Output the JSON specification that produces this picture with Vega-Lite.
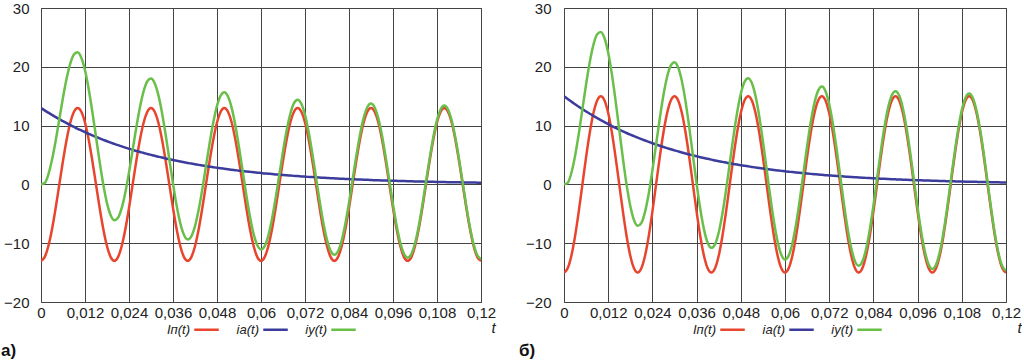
{
  "$schema": "https://vega.github.io/schema/vega-lite/v6.json",
  "padding": {"left": 0, "top": 0, "right": 0, "bottom": 0},
  "spacing": 21,
  "background": "white",
  "config": {
    "font": "Liberation Sans",
    "view": {"stroke": "#444", "strokeWidth": 1},
    "axis": {"grid": true, "gridColor": "#444", "gridOpacity": 1, "gridWidth": 1, "ticks": false, "domain": false, "labelFontSize": 15, "labelColor": "#222", "labelFont": "Liberation Sans"},
    "title": {"font": "Liberation Sans"}
  },
  "resolve": {"scale": {"color": "independent", "x": "independent", "y": "independent"}, "legend": {"color": "independent"}},
  "datasets": {
    "a": [
      {"t":0,"ip":-13,"ia":13,"iy":0},{"t":0.001,"ip":-12.36,"ia":12.59,"iy":0.23},{"t":0.002,"ip":-10.52,"ia":12.2,"iy":1.68},{"t":0.003,"ip":-7.64,"ia":11.82,"iy":4.18},{"t":0.004,"ip":-4.02,"ia":11.45,"iy":7.43},{"t":0.005,"ip":0,"ia":11.09,"iy":11.09},{"t":0.006,"ip":4.02,"ia":10.75,"iy":14.77},{"t":0.007,"ip":7.64,"ia":10.41,"iy":18.05},{"t":0.008,"ip":10.52,"ia":10.08,"iy":20.6},{"t":0.009,"ip":12.36,"ia":9.77,"iy":22.13},
      {"t":0.01,"ip":13,"ia":9.46,"iy":22.46},{"t":0.011,"ip":12.36,"ia":9.17,"iy":21.53},{"t":0.012,"ip":10.52,"ia":8.88,"iy":19.4},{"t":0.013,"ip":7.64,"ia":8.6,"iy":16.24},{"t":0.014,"ip":4.02,"ia":8.34,"iy":12.36},{"t":0.015,"ip":0,"ia":8.07,"iy":8.07},{"t":0.016,"ip":-4.02,"ia":7.82,"iy":3.8},{"t":0.017,"ip":-7.64,"ia":7.58,"iy":-0.06},{"t":0.018,"ip":-10.52,"ia":7.34,"iy":-3.18},{"t":0.019,"ip":-12.36,"ia":7.11,"iy":-5.25},
      {"t":0.02,"ip":-13,"ia":6.89,"iy":-6.11},{"t":0.021,"ip":-12.36,"ia":6.67,"iy":-5.69},{"t":0.022,"ip":-10.52,"ia":6.47,"iy":-4.05},{"t":0.023,"ip":-7.64,"ia":6.26,"iy":-1.38},{"t":0.024,"ip":-4.02,"ia":6.07,"iy":2.05},{"t":0.025,"ip":0,"ia":5.88,"iy":5.88},{"t":0.026,"ip":4.02,"ia":5.69,"iy":9.71},{"t":0.027,"ip":7.64,"ia":5.52,"iy":13.16},{"t":0.028,"ip":10.52,"ia":5.34,"iy":15.86},{"t":0.029,"ip":12.36,"ia":5.18,"iy":17.54},
      {"t":0.03,"ip":13,"ia":5.02,"iy":18.02},{"t":0.031,"ip":12.36,"ia":4.86,"iy":17.22},{"t":0.032,"ip":10.52,"ia":4.71,"iy":15.23},{"t":0.033,"ip":7.64,"ia":4.56,"iy":12.2},{"t":0.034,"ip":4.02,"ia":4.42,"iy":8.44},{"t":0.035,"ip":0,"ia":4.28,"iy":4.28},{"t":0.036,"ip":-4.02,"ia":4.15,"iy":0.13},{"t":0.037,"ip":-7.64,"ia":4.02,"iy":-3.62},{"t":0.038,"ip":-10.52,"ia":3.89,"iy":-6.63},{"t":0.039,"ip":-12.36,"ia":3.77,"iy":-8.59},
      {"t":0.04,"ip":-13,"ia":3.65,"iy":-9.35},{"t":0.041,"ip":-12.36,"ia":3.54,"iy":-8.82},{"t":0.042,"ip":-10.52,"ia":3.43,"iy":-7.09},{"t":0.043,"ip":-7.64,"ia":3.32,"iy":-4.32},{"t":0.044,"ip":-4.02,"ia":3.22,"iy":-0.8},{"t":0.045,"ip":0,"ia":3.12,"iy":3.12},{"t":0.046,"ip":4.02,"ia":3.02,"iy":7.04},{"t":0.047,"ip":7.64,"ia":2.92,"iy":10.56},{"t":0.048,"ip":10.52,"ia":2.83,"iy":13.35},{"t":0.049,"ip":12.36,"ia":2.74,"iy":15.1},
      {"t":0.05,"ip":13,"ia":2.66,"iy":15.66},{"t":0.051,"ip":12.36,"ia":2.58,"iy":14.94},{"t":0.052,"ip":10.52,"ia":2.49,"iy":13.01},{"t":0.053,"ip":7.64,"ia":2.42,"iy":10.06},{"t":0.054,"ip":4.02,"ia":2.34,"iy":6.36},{"t":0.055,"ip":0,"ia":2.27,"iy":2.27},{"t":0.056,"ip":-4.02,"ia":2.2,"iy":-1.82},{"t":0.057,"ip":-7.64,"ia":2.13,"iy":-5.51},{"t":0.058,"ip":-10.52,"ia":2.06,"iy":-8.46},{"t":0.059,"ip":-12.36,"ia":2,"iy":-10.36},
      {"t":0.06,"ip":-13,"ia":1.94,"iy":-11.06},{"t":0.061,"ip":-12.36,"ia":1.87,"iy":-10.49},{"t":0.062,"ip":-10.52,"ia":1.82,"iy":-8.7},{"t":0.063,"ip":-7.64,"ia":1.76,"iy":-5.88},{"t":0.064,"ip":-4.02,"ia":1.7,"iy":-2.32},{"t":0.065,"ip":0,"ia":1.65,"iy":1.65},{"t":0.066,"ip":4.02,"ia":1.6,"iy":5.62},{"t":0.067,"ip":7.64,"ia":1.55,"iy":9.19},{"t":0.068,"ip":10.52,"ia":1.5,"iy":12.02},{"t":0.069,"ip":12.36,"ia":1.45,"iy":13.81},
      {"t":0.07,"ip":13,"ia":1.41,"iy":14.41},{"t":0.071,"ip":12.36,"ia":1.36,"iy":13.72},{"t":0.072,"ip":10.52,"ia":1.32,"iy":11.84},{"t":0.073,"ip":7.64,"ia":1.28,"iy":8.92},{"t":0.074,"ip":4.02,"ia":1.24,"iy":5.26},{"t":0.075,"ip":0,"ia":1.2,"iy":1.2},{"t":0.076,"ip":-4.02,"ia":1.16,"iy":-2.86},{"t":0.077,"ip":-7.64,"ia":1.13,"iy":-6.51},{"t":0.078,"ip":-10.52,"ia":1.09,"iy":-9.43},{"t":0.079,"ip":-12.36,"ia":1.06,"iy":-11.3},
      {"t":0.08,"ip":-13,"ia":1.03,"iy":-11.97},{"t":0.081,"ip":-12.36,"ia":0.99,"iy":-11.37},{"t":0.082,"ip":-10.52,"ia":0.96,"iy":-9.56},{"t":0.083,"ip":-7.64,"ia":0.93,"iy":-6.71},{"t":0.084,"ip":-4.02,"ia":0.9,"iy":-3.12},{"t":0.085,"ip":0,"ia":0.88,"iy":0.88},{"t":0.086,"ip":4.02,"ia":0.85,"iy":4.87},{"t":0.087,"ip":7.64,"ia":0.82,"iy":8.46},{"t":0.088,"ip":10.52,"ia":0.8,"iy":11.32},{"t":0.089,"ip":12.36,"ia":0.77,"iy":13.13},
      {"t":0.09,"ip":13,"ia":0.75,"iy":13.75},{"t":0.091,"ip":12.36,"ia":0.72,"iy":13.08},{"t":0.092,"ip":10.52,"ia":0.7,"iy":11.22},{"t":0.093,"ip":7.64,"ia":0.68,"iy":8.32},{"t":0.094,"ip":4.02,"ia":0.66,"iy":4.68},{"t":0.095,"ip":0,"ia":0.64,"iy":0.64},{"t":0.096,"ip":-4.02,"ia":0.62,"iy":-3.4},{"t":0.097,"ip":-7.64,"ia":0.6,"iy":-7.04},{"t":0.098,"ip":-10.52,"ia":0.58,"iy":-9.94},{"t":0.099,"ip":-12.36,"ia":0.56,"iy":-11.8},
      {"t":0.1,"ip":-13,"ia":0.54,"iy":-12.46},{"t":0.101,"ip":-12.36,"ia":0.53,"iy":-11.83},{"t":0.102,"ip":-10.52,"ia":0.51,"iy":-10.01},{"t":0.103,"ip":-7.64,"ia":0.49,"iy":-7.15},{"t":0.104,"ip":-4.02,"ia":0.48,"iy":-3.54},{"t":0.105,"ip":0,"ia":0.46,"iy":0.46},{"t":0.106,"ip":4.02,"ia":0.45,"iy":4.47},{"t":0.107,"ip":7.64,"ia":0.44,"iy":8.08},{"t":0.108,"ip":10.52,"ia":0.42,"iy":10.94},{"t":0.109,"ip":12.36,"ia":0.41,"iy":12.77},
      {"t":0.11,"ip":13,"ia":0.4,"iy":13.4},{"t":0.111,"ip":12.36,"ia":0.38,"iy":12.74},{"t":0.112,"ip":10.52,"ia":0.37,"iy":10.89},{"t":0.113,"ip":7.64,"ia":0.36,"iy":8},{"t":0.114,"ip":4.02,"ia":0.35,"iy":4.37},{"t":0.115,"ip":0,"ia":0.34,"iy":0.34},{"t":0.116,"ip":-4.02,"ia":0.33,"iy":-3.69},{"t":0.117,"ip":-7.64,"ia":0.32,"iy":-7.32},{"t":0.118,"ip":-10.52,"ia":0.31,"iy":-10.21},{"t":0.119,"ip":-12.36,"ia":0.3,"iy":-12.06},
      {"t":0.12,"ip":-13,"ia":0.29,"iy":-12.71}
    ],
    "b": [
      {"t":0,"ip":-15,"ia":15,"iy":0},{"t":0.001,"ip":-14.27,"ia":14.53,"iy":0.26},{"t":0.002,"ip":-12.14,"ia":14.08,"iy":1.94},{"t":0.003,"ip":-8.82,"ia":13.64,"iy":4.82},{"t":0.004,"ip":-4.64,"ia":13.21,"iy":8.57},{"t":0.005,"ip":0,"ia":12.8,"iy":12.8},{"t":0.006,"ip":4.64,"ia":12.4,"iy":17.04},{"t":0.007,"ip":8.82,"ia":12.01,"iy":20.83},{"t":0.008,"ip":12.14,"ia":11.64,"iy":23.78},{"t":0.009,"ip":14.27,"ia":11.27,"iy":25.54},
      {"t":0.01,"ip":15,"ia":10.92,"iy":25.92},{"t":0.011,"ip":14.27,"ia":10.58,"iy":24.85},{"t":0.012,"ip":12.14,"ia":10.25,"iy":22.39},{"t":0.013,"ip":8.82,"ia":9.93,"iy":18.75},{"t":0.014,"ip":4.64,"ia":9.62,"iy":14.26},{"t":0.015,"ip":0,"ia":9.32,"iy":9.32},{"t":0.016,"ip":-4.64,"ia":9.03,"iy":4.39},{"t":0.017,"ip":-8.82,"ia":8.74,"iy":-0.08},{"t":0.018,"ip":-12.14,"ia":8.47,"iy":-3.67},{"t":0.019,"ip":-14.27,"ia":8.21,"iy":-6.06},
      {"t":0.02,"ip":-15,"ia":7.95,"iy":-7.05},{"t":0.021,"ip":-14.27,"ia":7.7,"iy":-6.57},{"t":0.022,"ip":-12.14,"ia":7.46,"iy":-4.68},{"t":0.023,"ip":-8.82,"ia":7.23,"iy":-1.59},{"t":0.024,"ip":-4.64,"ia":7,"iy":2.36},{"t":0.025,"ip":0,"ia":6.78,"iy":6.78},{"t":0.026,"ip":4.64,"ia":6.57,"iy":11.21},{"t":0.027,"ip":8.82,"ia":6.37,"iy":15.19},{"t":0.028,"ip":12.14,"ia":6.17,"iy":18.31},{"t":0.029,"ip":14.27,"ia":5.97,"iy":20.24},
      {"t":0.03,"ip":15,"ia":5.79,"iy":20.79},{"t":0.031,"ip":14.27,"ia":5.61,"iy":19.88},{"t":0.032,"ip":12.14,"ia":5.43,"iy":17.57},{"t":0.033,"ip":8.82,"ia":5.26,"iy":14.08},{"t":0.034,"ip":4.64,"ia":5.1,"iy":9.74},{"t":0.035,"ip":0,"ia":4.94,"iy":4.94},{"t":0.036,"ip":-4.64,"ia":4.78,"iy":0.14},{"t":0.037,"ip":-8.82,"ia":4.63,"iy":-4.19},{"t":0.038,"ip":-12.14,"ia":4.49,"iy":-7.65},{"t":0.039,"ip":-14.27,"ia":4.35,"iy":-9.92},
      {"t":0.04,"ip":-15,"ia":4.21,"iy":-10.79},{"t":0.041,"ip":-14.27,"ia":4.08,"iy":-10.19},{"t":0.042,"ip":-12.14,"ia":3.95,"iy":-8.19},{"t":0.043,"ip":-8.82,"ia":3.83,"iy":-4.99},{"t":0.044,"ip":-4.64,"ia":3.71,"iy":-0.93},{"t":0.045,"ip":0,"ia":3.59,"iy":3.59},{"t":0.046,"ip":4.64,"ia":3.48,"iy":8.12},{"t":0.047,"ip":8.82,"ia":3.37,"iy":12.19},{"t":0.048,"ip":12.14,"ia":3.27,"iy":15.41},{"t":0.049,"ip":14.27,"ia":3.17,"iy":17.44},
      {"t":0.05,"ip":15,"ia":3.07,"iy":18.07},{"t":0.051,"ip":14.27,"ia":2.97,"iy":17.24},{"t":0.052,"ip":12.14,"ia":2.88,"iy":15.02},{"t":0.053,"ip":8.82,"ia":2.79,"iy":11.61},{"t":0.054,"ip":4.64,"ia":2.7,"iy":7.34},{"t":0.055,"ip":0,"ia":2.62,"iy":2.62},{"t":0.056,"ip":-4.64,"ia":2.54,"iy":-2.1},{"t":0.057,"ip":-8.82,"ia":2.46,"iy":-6.36},{"t":0.058,"ip":-12.14,"ia":2.38,"iy":-9.76},{"t":0.059,"ip":-14.27,"ia":2.3,"iy":-11.97},
      {"t":0.06,"ip":-15,"ia":2.23,"iy":-12.77},{"t":0.061,"ip":-14.27,"ia":2.16,"iy":-12.11},{"t":0.062,"ip":-12.14,"ia":2.1,"iy":-10.04},{"t":0.063,"ip":-8.82,"ia":2.03,"iy":-6.79},{"t":0.064,"ip":-4.64,"ia":1.97,"iy":-2.67},{"t":0.065,"ip":0,"ia":1.91,"iy":1.91},{"t":0.066,"ip":4.64,"ia":1.85,"iy":6.49},{"t":0.067,"ip":8.82,"ia":1.79,"iy":10.61},{"t":0.068,"ip":12.14,"ia":1.73,"iy":13.87},{"t":0.069,"ip":14.27,"ia":1.68,"iy":15.95},
      {"t":0.07,"ip":15,"ia":1.63,"iy":16.63},{"t":0.071,"ip":14.27,"ia":1.57,"iy":15.84},{"t":0.072,"ip":12.14,"ia":1.53,"iy":13.67},{"t":0.073,"ip":8.82,"ia":1.48,"iy":10.3},{"t":0.074,"ip":4.64,"ia":1.43,"iy":6.07},{"t":0.075,"ip":0,"ia":1.39,"iy":1.39},{"t":0.076,"ip":-4.64,"ia":1.34,"iy":-3.3},{"t":0.077,"ip":-8.82,"ia":1.3,"iy":-7.52},{"t":0.078,"ip":-12.14,"ia":1.26,"iy":-10.88},{"t":0.079,"ip":-14.27,"ia":1.22,"iy":-13.05},
      {"t":0.08,"ip":-15,"ia":1.18,"iy":-13.82},{"t":0.081,"ip":-14.27,"ia":1.15,"iy":-13.12},{"t":0.082,"ip":-12.14,"ia":1.11,"iy":-11.03},{"t":0.083,"ip":-8.82,"ia":1.08,"iy":-7.74},{"t":0.084,"ip":-4.64,"ia":1.04,"iy":-3.6},{"t":0.085,"ip":0,"ia":1.01,"iy":1.01},{"t":0.086,"ip":4.64,"ia":0.98,"iy":5.62},{"t":0.087,"ip":8.82,"ia":0.95,"iy":9.77},{"t":0.088,"ip":12.14,"ia":0.92,"iy":13.06},{"t":0.089,"ip":14.27,"ia":0.89,"iy":15.16},
      {"t":0.09,"ip":15,"ia":0.86,"iy":15.86},{"t":0.091,"ip":14.27,"ia":0.83,"iy":15.1},{"t":0.092,"ip":12.14,"ia":0.81,"iy":12.95},{"t":0.093,"ip":8.82,"ia":0.78,"iy":9.6},{"t":0.094,"ip":4.64,"ia":0.76,"iy":5.4},{"t":0.095,"ip":0,"ia":0.74,"iy":0.74},{"t":0.096,"ip":-4.64,"ia":0.71,"iy":-3.93},{"t":0.097,"ip":-8.82,"ia":0.69,"iy":-8.13},{"t":0.098,"ip":-12.14,"ia":0.67,"iy":-11.47},{"t":0.099,"ip":-14.27,"ia":0.65,"iy":-13.62},
      {"t":0.1,"ip":-15,"ia":0.63,"iy":-14.37},{"t":0.101,"ip":-14.27,"ia":0.61,"iy":-13.66},{"t":0.102,"ip":-12.14,"ia":0.59,"iy":-11.55},{"t":0.103,"ip":-8.82,"ia":0.57,"iy":-8.25},{"t":0.104,"ip":-4.64,"ia":0.55,"iy":-4.09},{"t":0.105,"ip":0,"ia":0.54,"iy":0.54},{"t":0.106,"ip":4.64,"ia":0.52,"iy":5.16},{"t":0.107,"ip":8.82,"ia":0.5,"iy":9.32},{"t":0.108,"ip":12.14,"ia":0.49,"iy":12.63},{"t":0.109,"ip":14.27,"ia":0.47,"iy":14.74},
      {"t":0.11,"ip":15,"ia":0.46,"iy":15.46},{"t":0.111,"ip":14.27,"ia":0.44,"iy":14.71},{"t":0.112,"ip":12.14,"ia":0.43,"iy":12.57},{"t":0.113,"ip":8.82,"ia":0.42,"iy":9.24},{"t":0.114,"ip":4.64,"ia":0.4,"iy":5.04},{"t":0.115,"ip":0,"ia":0.39,"iy":0.39},{"t":0.116,"ip":-4.64,"ia":0.38,"iy":-4.26},{"t":0.117,"ip":-8.82,"ia":0.37,"iy":-8.45},{"t":0.118,"ip":-12.14,"ia":0.35,"iy":-11.79},{"t":0.119,"ip":-14.27,"ia":0.34,"iy":-13.93},
      {"t":0.12,"ip":-15,"ia":0.33,"iy":-14.67}
    ]
  },
  "hconcat": [
    {
      "width": 440,
      "height": 294,
      "data": {"name": "a"},
      "title": {"text": "а)", "orient": "bottom", "anchor": "start", "frame": "group", "dx": -40, "fontSize": 17, "fontWeight": "bold", "color": "#111", "offset": 6},
      "encoding": {
        "x": {"field": "t", "type": "quantitative", "scale": {"domain": [0, 0.12], "nice": false, "zero": false},
          "axis": {"values": [0, 0.012, 0.024, 0.036, 0.048, 0.06, 0.072, 0.084, 0.096, 0.108, 0.12], "labelExpr": "replace(toString(datum.value), '.', ',')", "labelFlush": false, "labelPadding": 3, "labelOverlap": false, "title": "t", "titleFontStyle": "italic", "titleFontWeight": "normal", "titleFontSize": 15, "titleColor": "#222", "titleX": 452, "titleY": 30, "titleAlign": "center", "titleBaseline": "alphabetic"}}
      },
      "layer": [
        {"mark": {"type": "line", "interpolate": "monotone", "strokeWidth": 2.5, "clip": true},
          "encoding": {"y": {"field": "ip", "type": "quantitative", "scale": {"domain": [-20, 30], "nice": false}, "axis": {"values": [-20, -15, -10, -5, 0, 5, 10, 15, 20, 25, 30], "labelPadding": 12, "title": null}},
            "color": {"datum": "Iп(t)", "scale": {"domain": ["Iп(t)", "iа(t)", "iу(t)"], "range": ["#e8452e", "#3c3c9c", "#6abf4b"]},
              "legend": {"orient": "none", "legendX": 152, "legendY": 308, "direction": "horizontal", "title": null, "symbolType": "stroke", "symbolSize": 600, "symbolStrokeWidth": 2.5, "labelFontSize": 13, "labelFontStyle": "italic", "labelColor": "#222", "labelAlign": "right", "labelOffset": -30, "columnPadding": 12}}}},
        {"mark": {"type": "line", "interpolate": "monotone", "strokeWidth": 2.5, "clip": true},
          "encoding": {"y": {"field": "ia", "type": "quantitative"}, "color": {"datum": "iа(t)"}}},
        {"mark": {"type": "line", "interpolate": "monotone", "strokeWidth": 2.5, "clip": true},
          "encoding": {"y": {"field": "iy", "type": "quantitative"}, "color": {"datum": "iу(t)"}}}
      ]
    },
    {
      "width": 442,
      "height": 294,
      "data": {"name": "b"},
      "title": {"text": "б)", "orient": "bottom", "anchor": "start", "frame": "group", "dx": -45, "fontSize": 17, "fontWeight": "bold", "color": "#111", "offset": 6},
      "encoding": {
        "x": {"field": "t", "type": "quantitative", "scale": {"domain": [0, 0.12], "nice": false, "zero": false},
          "axis": {"values": [0, 0.012, 0.024, 0.036, 0.048, 0.06, 0.072, 0.084, 0.096, 0.108, 0.12], "labelExpr": "replace(toString(datum.value), '.', ',')", "labelFlush": false, "labelPadding": 3, "labelOverlap": false, "title": "t", "titleFontStyle": "italic", "titleFontWeight": "normal", "titleFontSize": 15, "titleColor": "#222", "titleX": 455, "titleY": 30, "titleAlign": "center", "titleBaseline": "alphabetic"}}
      },
      "layer": [
        {"mark": {"type": "line", "interpolate": "monotone", "strokeWidth": 2.5, "clip": true},
          "encoding": {"y": {"field": "ip", "type": "quantitative", "scale": {"domain": [-20, 30], "nice": false}, "axis": {"values": [-20, -15, -10, -5, 0, 5, 10, 15, 20, 25, 30], "labelPadding": 13, "title": null}},
            "color": {"datum": "Iп(t)", "scale": {"domain": ["Iп(t)", "iа(t)", "iу(t)"], "range": ["#e8452e", "#3c3c9c", "#6abf4b"]},
              "legend": {"orient": "none", "legendX": 155, "legendY": 308, "direction": "horizontal", "title": null, "symbolType": "stroke", "symbolSize": 600, "symbolStrokeWidth": 2.5, "labelFontSize": 13, "labelFontStyle": "italic", "labelColor": "#222", "labelAlign": "right", "labelOffset": -30, "columnPadding": 12}}}},
        {"mark": {"type": "line", "interpolate": "monotone", "strokeWidth": 2.5, "clip": true},
          "encoding": {"y": {"field": "ia", "type": "quantitative"}, "color": {"datum": "iа(t)"}}},
        {"mark": {"type": "line", "interpolate": "monotone", "strokeWidth": 2.5, "clip": true},
          "encoding": {"y": {"field": "iy", "type": "quantitative"}, "color": {"datum": "iу(t)"}}}
      ]
    }
  ]
}
